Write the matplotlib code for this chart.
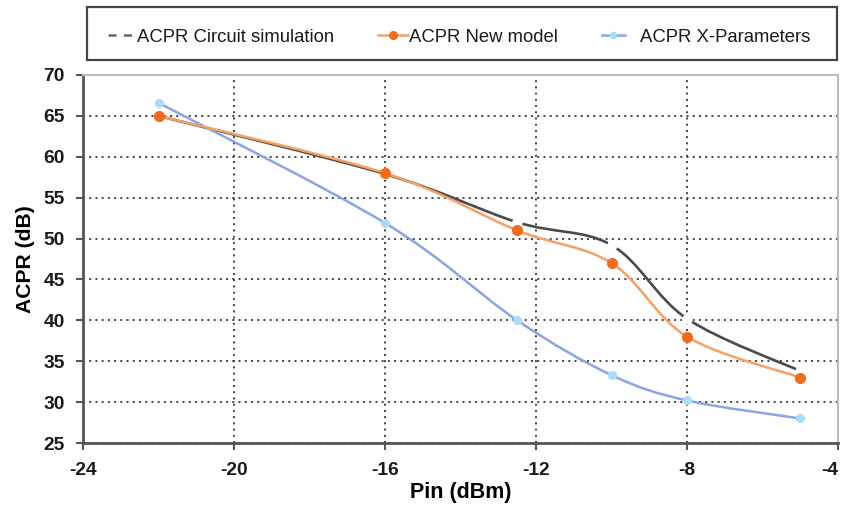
import matplotlib
matplotlib.use("Agg")
import matplotlib.pyplot as plt
from matplotlib.path import Path
from matplotlib.patches import PathPatch, Rectangle
from matplotlib.lines import Line2D
import numpy as np

plt.rcParams['font.family'] = ['Liberation Sans', 'DejaVu Sans']
plt.rcParams['axes.unicode_minus'] = False

# Data
pin = [-22, -16, -12.5, -10, -8, -5]
acpr_circuit = [65.0, 57.9, 52.0, 49.2, 40.2, 33.8]
acpr_new = [65.0, 58.0, 51.0, 47.0, 38.0, 33.0]
acpr_xparam = [66.6, 51.9, 40.0, 33.3, 30.2, 28.0]

x_ticks = [-24, -20, -16, -12, -8, -4]
y_ticks = [25, 30, 35, 40, 45, 50, 55, 60, 65, 70]
labels = ["ACPR Circuit simulation", "ACPR New model", "ACPR X-Parameters"]


def smooth_path(xs, ys):
    pts = np.column_stack([xs, ys]).astype(float)
    n = len(pts)
    verts = [pts[0]]
    codes = [Path.MOVETO]
    for i in range(n - 1):
        p0 = pts[i - 1] if i > 0 else pts[i]
        p1 = pts[i]
        p2 = pts[i + 1]
        p3 = pts[i + 2] if i + 2 < n else pts[i + 1]
        c1 = p1 + (p2 - p0) / 6.0
        c2 = p2 - (p3 - p1) / 6.0
        verts += [c1, c2, p2]
        codes += [Path.CURVE4] * 3
    return Path(verts, codes)


W, H = 843, 505
fig = plt.figure(figsize=(W / 100, H / 100), dpi=100)
ax = fig.add_axes([83 / W, 1 - 443 / H, (838 - 83) / W, (443 - 75) / H])


def fx(px):
    return px / W


def fy(py):
    return 1 - py / H


ax.set_xlim(-24, -4)
ax.set_ylim(25, 70)
ax.set_xticks(x_ticks)
ax.set_yticks(y_ticks)

ax.grid(True, linestyle=(0, (1, 2.2)), color='#404040', linewidth=1.4, zorder=0)
ax.set_axisbelow(True)

gray = '#4a4a4a'
orange_line = '#F8A060'
orange_mk = '#F26A1B'
blue_line = '#8AA4E6'
blue_mk = '#A9DDF7'

# Circuit simulation
ax.add_patch(PathPatch(smooth_path(pin, acpr_circuit), facecolor='none',
                       edgecolor=gray, lw=1.9, zorder=3, transform=ax.transData))
ax.plot(pin, acpr_circuit, linestyle='none', marker='o', ms=6.5,
        mfc='white', mec='white', zorder=3.5)

# X-Parameters
ax.add_patch(PathPatch(smooth_path(pin, acpr_xparam), facecolor='none',
                       edgecolor=blue_line, lw=1.8, zorder=4, transform=ax.transData))
ax.plot(pin, acpr_xparam, linestyle='none', marker='o', ms=5.5,
        mfc=blue_mk, mec=blue_mk, zorder=4.5)

# New model
ax.add_patch(PathPatch(smooth_path(pin, acpr_new), facecolor='none',
                       edgecolor=orange_line, lw=1.8, zorder=5, transform=ax.transData))
ax.plot(pin, acpr_new, linestyle='none', marker='o', ms=7,
        mfc=orange_mk, mec=orange_mk, zorder=5.5)

for s in ['left', 'bottom']:
    ax.spines[s].set_color('#555555')
    ax.spines[s].set_linewidth(2.0)
for s in ['top', 'right']:
    ax.spines[s].set_color('#bbbbbb')
    ax.spines[s].set_linewidth(1.5)

ax.tick_params(axis='both', direction='out', length=5, width=1.5,
               color='#555555', labelsize=13.8, labelcolor='#1a1a1a')
ax.tick_params(axis='x', pad=9)
ax.tick_params(axis='y', pad=8)
for lab in ax.get_xticklabels() + ax.get_yticklabels():
    lab.set_fontweight('bold')
ax.get_xticklabels()[-1].set_horizontalalignment('right')

ax.set_xlabel("Pin (dBm)", fontsize=15.5, fontweight='bold', labelpad=2)
ax.set_ylabel("ACPR (dB)", fontsize=15.2, fontweight='bold', labelpad=6)

# Legend box
fig.add_artist(Rectangle((fx(87), fy(60)), fx(837) - fx(87), fy(7) - fy(60),
                         transform=fig.transFigure, facecolor='white',
                         edgecolor='#444444', lw=1.6))
ly = fy(35)
fig.add_artist(Line2D([fx(108), fx(135)], [ly, ly], transform=fig.transFigure,
                      color='#666666', lw=1.8, dashes=(3.2, 3.0)))
fig.add_artist(Line2D([fx(378), fx(408)], [ly, ly], transform=fig.transFigure,
                      color=orange_line, lw=1.8))
fig.add_artist(Line2D([fx(393)], [ly], transform=fig.transFigure, marker='o',
                      ms=5.5, mfc=orange_mk, mec=orange_mk, linestyle='none'))
fig.add_artist(Line2D([fx(602), fx(625)], [ly, ly], transform=fig.transFigure,
                      color=blue_line, lw=1.8))
fig.add_artist(Line2D([fx(613)], [ly], transform=fig.transFigure, marker='o',
                      ms=4.5, mfc=blue_mk, mec=blue_mk, linestyle='none'))
for xpx, txt in zip([137, 409, 640], labels):
    fig.text(fx(xpx), ly, txt, fontsize=13.3, color='#1a1a1a',
             ha='left', va='center_baseline')

fig.savefig("out.png", dpi=100)
